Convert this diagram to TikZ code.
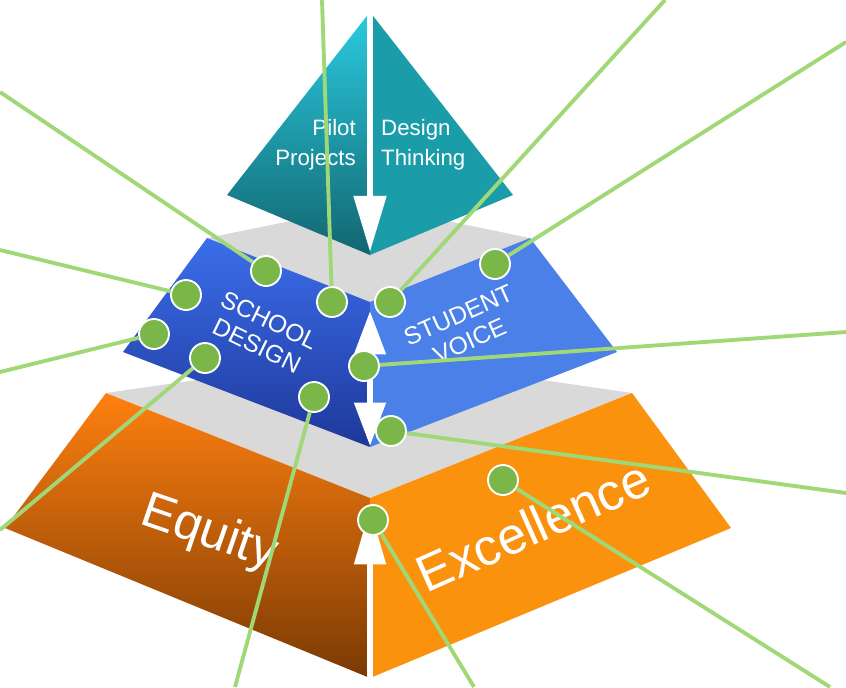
\documentclass[tikz,border=0pt]{standalone}
\usepackage{fontspec}
\setmainfont{Liberation Sans}
\usetikzlibrary{arrows.meta}
\definecolor{tealtop}{HTML}{2ACBE0}
\definecolor{tealbot}{HTML}{126670}
\definecolor{tealright}{HTML}{1A9DA9}
\definecolor{bluetop}{HTML}{3B6EEB}
\definecolor{bluebot}{HTML}{1E389A}
\definecolor{blueright}{HTML}{4A80E8}
\definecolor{orangetop}{HTML}{FF8010}
\definecolor{orangebot}{HTML}{7A3A04}
\definecolor{orangeright}{HTML}{FA920E}
\definecolor{platform}{HTML}{D9D9D9}
\definecolor{dotgreen}{HTML}{7AB648}
\definecolor{linegreen}{HTML}{A0D877}

\begin{document}
\begin{tikzpicture}[x=0.03cm, y=-0.03cm,
	dotnode/.style={circle, draw=white, line width=1.6pt, fill=dotgreen, minimum size=0.9cm, inner sep=0pt},
	leader/.style={draw=linegreen, line width=3.3pt},
	facetext/.style={text=white, inner sep=0pt},
	whitearrow/.style={draw=white, line width=5.5pt},
	]
	\useasboundingbox (0,0) rectangle (846,687);

	%Bottom tier
	\fill[fill=platform] (106,393) -- (370,355) -- (632,393) -- (370,498) -- cycle;
	\shade[top color=orangetop, bottom color=orangebot] (106,393) -- (370,498) -- (370,678) -- (5,528) -- cycle;
	\fill[fill=orangeright] (370,498) -- (632,393) -- (731,528) -- (370,678) -- cycle;

	%Middle tier
	\fill[fill=platform] (207,238) -- (370,205) -- (530,238) -- (370,302) -- cycle;
	\shade[top color=bluetop, bottom color=bluebot] (207,238) -- (370,302) -- (370,447) -- (123,352) -- cycle;
	\fill[fill=blueright] (370,302) -- (530,238) -- (617,352) -- (370,447) -- cycle;

	%Top pyramid
	\shade[top color=tealtop, bottom color=tealbot] (370,12) -- (227,195) -- (370,255) -- cycle;
	\fill[fill=tealright] (370,12) -- (513,195) -- (370,255) -- cycle;

	%Arrows
	\coordinate (apex) at (370,10);
	\coordinate (topfront) at (370,252);
	\coordinate (midtop) at (370,311);
	\coordinate (midbottom) at (370,446);
	\coordinate (lowtop) at (370,508);
	\coordinate (lowbottom) at (370,680);
	\draw[whitearrow, -{Triangle[width=27pt,length=48pt]}] (apex) -- (topfront);
	\draw[whitearrow, {Triangle[width=26pt,length=37pt]}-{Triangle[width=26pt,length=37pt]}] (midtop) -- (midbottom);
	\draw[whitearrow, -{Triangle[width=26pt,length=48pt]}] (lowbottom) -- (lowtop);

	%Texts
	\node[facetext, align=right, anchor=east, font=\fontsize{19}{26}\selectfont] (pilot) at (356,145) {Pilot\\Projects};
	\node[facetext, align=left, anchor=west, font=\fontsize{19}{26}\selectfont] (design) at (381,145) {Design\\Thinking};
	\node[facetext, align=center, rotate=-26, font=\fontsize{21}{24}\selectfont] (school) at (263,333) {SCHOOL\\DESIGN};
	\node[facetext, align=center, rotate=24, font=\fontsize{21}{24}\selectfont] (student) at (464,328) {STUDENT\\VOICE};
	\node[facetext, rotate=-19, font=\fontsize{43}{48}\selectfont] (equity) at (209,534) {Equity};
	\node[facetext, rotate=24, font=\fontsize{44}{50}\selectfont] (excellence) at (533,526) {Excellence};

	%Dots
	\node[dotnode] (d1) at (266,271) {};
	\node[dotnode] (d2) at (186,295) {};
	\node[dotnode] (d3) at (154,334) {};
	\node[dotnode] (d4) at (205,358) {};
	\node[dotnode] (d5) at (332,302) {};
	\node[dotnode] (d6) at (390,302) {};
	\node[dotnode] (d7) at (495,264) {};
	\node[dotnode] (d8) at (364,366) {};
	\node[dotnode] (d9) at (391,431) {};
	\node[dotnode] (d10) at (314,397) {};
	\node[dotnode] (d11) at (373,520) {};
	\node[dotnode] (d12) at (503,480) {};

	\coordinate (e1) at (0,92);
	\coordinate (e2) at (0,250);
	\coordinate (e3) at (0,372);
	\coordinate (e4) at (0,530);
	\coordinate (e5) at (322,0);
	\coordinate (e6) at (665,0);
	\coordinate (e7) at (846,42);
	\coordinate (e8) at (846,332);
	\coordinate (e9) at (846,493);
	\coordinate (e10) at (235,687);
	\coordinate (e11) at (474,687);
	\coordinate (e12) at (830,687);

	\foreach \i in {1,...,12}
		\draw[leader] (d\i) -- (e\i);
\end{tikzpicture}
\end{document}
